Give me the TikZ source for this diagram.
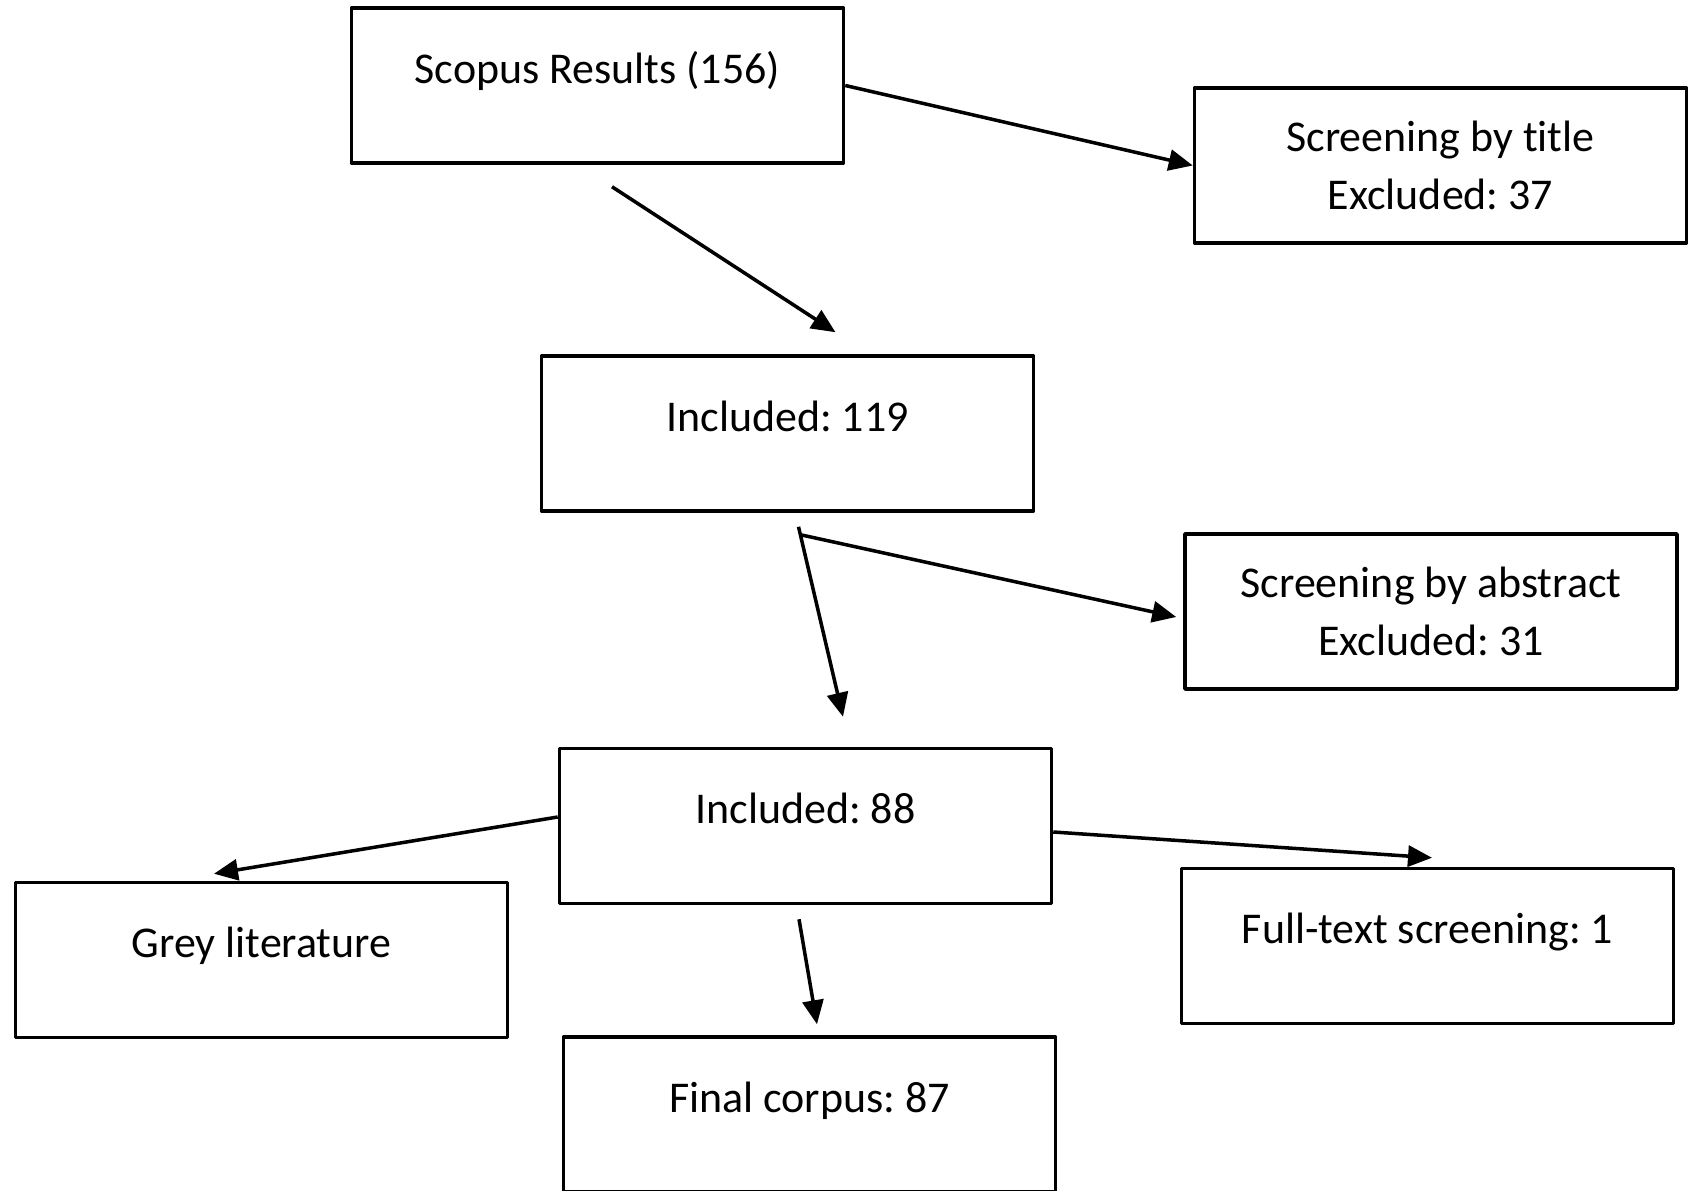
\documentclass[tikz,border=0pt]{standalone}
\usepackage{fontspec}
\setmainfont{Carlito}[Ligatures=NoCommon]
\usetikzlibrary{arrows.meta}
\frenchspacing
\begin{document}
\begin{tikzpicture}[line join=round,>={Triangle[length=4.8mm,width=4.2mm]},
	font=\fontsize{25pt}{33pt}\selectfont,
	box/.style={draw,line width=2pt,minimum width=9.84cm,minimum height=3.1cm,align=center,
		text height=0.6cm,text depth=0.69cm},
	boxtwo/.style={box,text height=1.86cm,text depth=0.1cm},
	arr/.style={->,line width=2pt}]
	
	\useasboundingbox (0,0) rectangle (34.02,-23.82);
	\node[box] (scopus) at (11.95,-1.71) {Scopus Results (156)};
	\node[boxtwo] (title) at (28.81,-3.31) {Screening by title\\Excluded: 37};
	\node[box] (inc119) at (15.75,-8.67) {Included: 119};
	\node[boxtwo] (abstract) at (28.62,-12.23) {Screening by abstract\\Excluded: 31};
	\node[box] (inc88) at (16.11,-16.52) {Included: 88};
	\node[box] (grey) at (5.23,-19.2) {Grey literature};
	\node[box] (fulltext) at (28.55,-18.92) {Full-text screening: 1};
	\node[box] (final) at (16.19,-22.29) {Final corpus: 87};
	
	\coordinate (split) at ([xshift=0.22cm,yshift=-0.28cm]inc119.south);
	\draw[arr] (scopus.east)--(title.west);
	\draw[arr] ([xshift=0.29cm,yshift=-0.44cm]scopus.south)--([xshift=0.96cm,yshift=0.44cm]inc119.north);
	\draw[arr] (split)--([xshift=0.75cm,yshift=0.6cm]inc88.north);
	\draw[arr] ([xshift=0.26cm,yshift=-0.44cm]inc119.south)--([xshift=-0.14cm,yshift=-0.11cm]abstract.west);
	\draw[arr] ([yshift=0.18cm]inc88.west)--([xshift=-0.95cm,yshift=0.14cm]grey.north);
	\draw[arr] ([yshift=-0.12cm]inc88.east)--([xshift=0.09cm,yshift=0.18cm]fulltext.north);
	\draw[arr] ([xshift=-0.13cm,yshift=-0.28cm]inc88.south)--([xshift=0.15cm,yshift=0.22cm]final.north);
\end{tikzpicture}
\end{document}
